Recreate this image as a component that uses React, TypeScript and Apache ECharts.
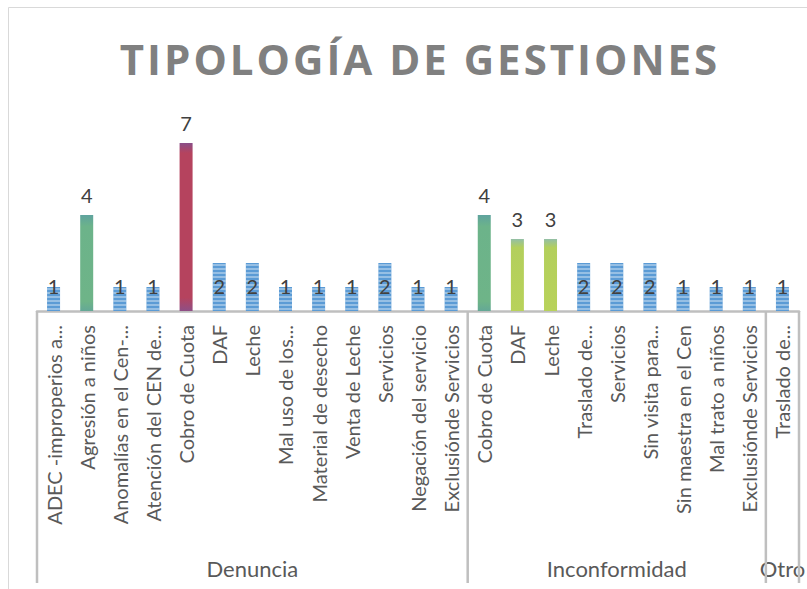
import React, { useEffect, useRef } from "react";
import * as echarts from "echarts";

const TITLE = "TIPOLOGÍA DE GESTIONES";

const categories = [
  "ADEC -improperios a...",
  "Agresión a niños",
  "Anomalías en el Cen-...",
  "Atención del CEN de...",
  "Cobro de Cuota",
  "DAF",
  "Leche",
  "Mal uso de los...",
  "Material de desecho",
  "Venta de Leche",
  "Servicios",
  "Negación del servicio",
  "Exclusiónde Servicios",
  "Cobro de Cuota",
  "DAF",
  "Leche",
  "Traslado de...",
  "Servicios",
  "Sin visita para...",
  "Sin maestra en el Cen",
  "Mal trato a niños",
  "Exclusiónde Servicios",
  "Traslado de...",
];

const values = [1, 4, 1, 1, 7, 2, 2, 1, 1, 1, 2, 1, 1, 4, 3, 3, 2, 2, 2, 1, 1, 1, 1];

const groups = ["Denuncia", "Inconformidad", "Otro"];
const groupSizes = [13, 9, 1];

const stripeDecal = {
  symbol: "rect",
  symbolSize: 1,
  dashArrayX: [1, 0],
  dashArrayY: [2, 2],
  rotation: 0,
  color: "rgba(255,255,255,0.36)",
};

function styleFor(v: number) {
  if (v >= 7) {
    return {
      color: new echarts.graphic.LinearGradient(0, 0, 0, 1, [
        { offset: 0, color: "#8A4E88" },
        { offset: 0.06, color: "#B5435E" },
        { offset: 0.92, color: "#B5435E" },
        { offset: 1, color: "#8E4F86" },
      ]),
      decal: "none",
    };
  }
  if (v >= 4) {
    return {
      color: new echarts.graphic.LinearGradient(0, 0, 0, 1, [
        { offset: 0, color: "#5FA39E" },
        { offset: 0.12, color: "#6CB38A" },
        { offset: 0.9, color: "#6EB488" },
        { offset: 1, color: "#64A896" },
      ]),
      decal: "none",
    };
  }
  if (v >= 3) {
    return {
      color: new echarts.graphic.LinearGradient(0, 0, 0, 1, [
        { offset: 0, color: "#93BFA6" },
        { offset: 0.12, color: "#B3CF5C" },
        { offset: 1, color: "#B8D25A" },
      ]),
      decal: "none",
    };
  }
  return { color: "#5B9BD5", decal: stripeDecal };
}

function labelFor(v: number) {
  const base = {
    show: true,
    fontFamily: "Lato",
    fontSize: 20,
    color: "#404040",
  };
  if (v >= 3) return { ...base, position: "top", distance: 10 };
  return { ...base, position: "insideBottom", distance: 15 };
}

export default function App() {
  const ref = useRef<HTMLDivElement>(null);

  useEffect(() => {
    if (!ref.current) return;
    const chart = echarts.init(ref.current, null, { renderer: "svg" });

    chart.setOption({
      animation: false,
      backgroundColor: "#ffffff",
      aria: { enabled: true, decal: { show: true } },
      grid: { left: 37, right: 8, top: 143, bottom: 278, containLabel: false },
      xAxis: {
        type: "category",
        data: categories,
        axisLine: { show: true, lineStyle: { color: "#BFBFBF", width: 2.5 } },
        axisTick: { show: false },
        axisLabel: {
          interval: 0,
          rotate: 90,
          margin: 14,
          fontFamily: "Lato",
          fontSize: 20,
          color: "#595959",
        },
      },
      yAxis: { type: "value", min: 0, max: 7, show: false, splitLine: { show: false } },
      series: [
        {
          type: "bar",
          barWidth: 13,
          data: values.map((v) => ({
            value: v,
            itemStyle: styleFor(v),
            label: labelFor(v),
          })),
        },
      ],
    });

    const px = (i: number, v: number) =>
      chart.convertToPixel({ gridIndex: 0 }, [i, v]) as number[];
    const c0 = px(0, 0);
    const c1 = px(1, 0);
    const bw = c1[0] - c0[0];
    const axisY = c0[1];
    const bottomY = 583;

    const graphics: any[] = [
      {
        type: "rect",
        shape: { x: 8.5, y: 7.5, width: 805, height: 600 },
        style: { fill: "none", stroke: "#D9D9D9", lineWidth: 1 },
        silent: true,
      },
      {
        type: "text",
        x: 420,
        y: 58,
        style: {
          text: TITLE,
          fontFamily: "Open Sans",
          fontWeight: "bold",
          fontSize: 42,
          fill: "#808080",
          align: "center",
          verticalAlign: "middle",
        },
      },
    ];

    let start = 0;
    const boundaries: number[] = [start];
    groupSizes.forEach((s, gi) => {
      const first = start;
      const last = start + s - 1;
      const cx = (px(first, 0)[0] + px(last, 0)[0]) / 2;
      graphics.push({
        type: "text",
        x: cx,
        y: 568,
        style: {
          text: groups[gi],
          fontFamily: "Lato",
          fontSize: 22,
          fill: "#595959",
          align: "center",
          verticalAlign: "middle",
        },
      });
      start += s;
      boundaries.push(start);
    });

    boundaries.forEach((b) => {
      const x = px(b, 0)[0] - bw / 2;
      graphics.push({
        type: "line",
        shape: { x1: x, y1: axisY, x2: x, y2: bottomY },
        style: { stroke: "#BFBFBF", lineWidth: 2.5 },
        silent: true,
      });
    });

    chart.setOption({ graphic: graphics });

    const applySpacing = () => {
      if (!ref.current) return;
      ref.current.querySelectorAll("text").forEach((t) => {
        if (t.textContent === TITLE) {
          (t as SVGTextElement).style.letterSpacing = "3px";
        }
      });
    };
    applySpacing();
    chart.on("finished", applySpacing);
    const timer = setTimeout(applySpacing, 50);

    return () => {
      clearTimeout(timer);
      chart.dispose();
    };
  }, []);

  return (
    <div
      ref={ref}
      style={{ position: "fixed", left: 0, top: 0, width: 807, height: 589 }}
    />
  );
}
